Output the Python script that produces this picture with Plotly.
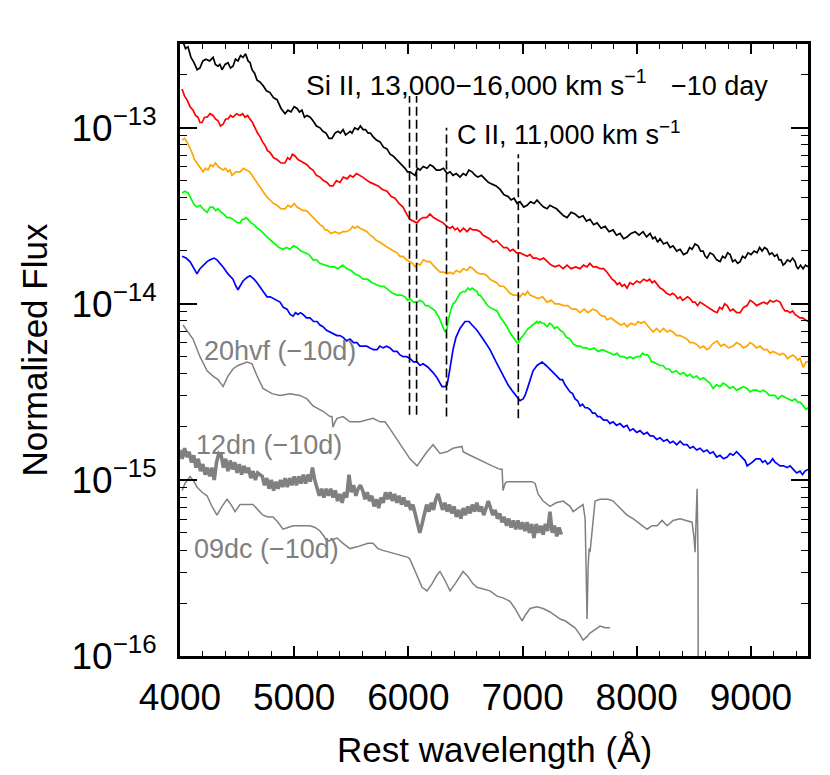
import numpy as np
import plotly.graph_objects as go

# ---- spectra: (rest wavelength [A], log10 normalized flux) ----
spec_black = [(4000,-12.48),(4013,-12.52),(4026,-12.51),(4048,-12.55),(4070,-12.54),(4096,-12.60),(4123,-12.63),(4150,-12.67),
    (4175,-12.66),(4200,-12.62),(4228,-12.61),(4260,-12.62),(4290,-12.60),(4310,-12.64),(4333,-12.65),(4350,-12.64),(4368,-12.67),
    (4395,-12.64),(4420,-12.63),(4442,-12.66),(4464,-12.65),(4486,-12.61),(4508,-12.62),(4530,-12.59),(4552,-12.60),(4574,-12.58),
    (4596,-12.62),(4614,-12.63),(4631,-12.67),(4653,-12.69),(4675,-12.73),(4700,-12.74),(4727,-12.76),(4757,-12.79),(4788,-12.80),
    (4820,-12.83),(4850,-12.84),(4885,-12.89),(4920,-12.92),(4946,-12.90),(4972,-12.91),(5000,-12.88),(5025,-12.89),(5046,-12.91),
    (5068,-12.90),(5090,-12.94),(5112,-12.93),(5140,-12.94),(5165,-12.96),(5195,-12.99),(5226,-13.00),(5252,-13.02),(5279,-13.03),
    (5305,-13.06),(5331,-13.06),(5358,-13.03),(5384,-13.02),(5405,-13.03),(5428,-13.01),(5450,-13.04),(5471,-13.03),(5490,-13.02),
    (5506,-13.03),(5530,-13.00),(5559,-13.01),(5580,-12.99),(5603,-13.01),(5625,-13.01),(5647,-13.03),(5668,-13.03),(5690,-13.05),
    (5720,-13.07),(5752,-13.08),(5782,-13.11),(5813,-13.12),(5840,-13.15),(5866,-13.16),(5896,-13.18),(5927,-13.20),(5950,-13.22),
    (5971,-13.23),(5992,-13.25),(6014,-13.25),(6036,-13.26),(6058,-13.27),(6080,-13.23),(6102,-13.24),(6130,-13.22),(6163,-13.23),
    (6190,-13.21),(6216,-13.22),(6246,-13.24),(6277,-13.24),(6308,-13.23),(6339,-13.26),(6365,-13.25),(6391,-13.27),(6420,-13.26),
    (6452,-13.28),(6480,-13.26),(6505,-13.27),(6530,-13.24),(6558,-13.25),(6585,-13.27),(6610,-13.28),(6640,-13.27),(6672,-13.29),
    (6700,-13.31),(6733,-13.32),(6768,-13.33),(6803,-13.35),(6838,-13.38),(6873,-13.39),(6900,-13.41),(6926,-13.40),(6952,-13.43),
    (6978,-13.42),(7010,-13.45),(7040,-13.44),(7070,-13.42),(7101,-13.43),(7127,-13.41),(7153,-13.43),(7185,-13.45),(7215,-13.46),
    (7240,-13.44),(7267,-13.45),(7298,-13.46),(7329,-13.48),(7360,-13.50),(7390,-13.51),(7425,-13.48),(7460,-13.49),(7495,-13.51),
    (7530,-13.50),(7560,-13.53),(7591,-13.52),(7622,-13.55),(7653,-13.54),(7688,-13.57),(7723,-13.56),(7758,-13.59),(7793,-13.58),
    (7823,-13.61),(7854,-13.60),(7885,-13.63),(7915,-13.62),(7950,-13.60),(7986,-13.59),(8020,-13.61),(8056,-13.59),(8086,-13.62),
    (8117,-13.60),(8140,-13.63),(8161,-13.62),(8183,-13.65),(8204,-13.63),(8235,-13.66),(8266,-13.65),(8292,-13.68),(8318,-13.67),
    (8350,-13.70),(8380,-13.69),(8410,-13.72),(8441,-13.71),(8463,-13.68),(8485,-13.69),(8510,-13.66),(8537,-13.67),(8560,-13.70),
    (8581,-13.70),(8600,-13.73),(8616,-13.74),(8642,-13.71),(8669,-13.72),(8700,-13.75),(8730,-13.76),(8752,-13.73),(8774,-13.74),
    (8796,-13.71),(8818,-13.72),(8840,-13.76),(8862,-13.75),(8884,-13.77),(8905,-13.76),(8927,-13.73),(8949,-13.74),(8975,-13.71),
    (9001,-13.72),(9028,-13.70),(9054,-13.71),(9076,-13.68),(9098,-13.70),(9120,-13.68),(9142,-13.69),(9163,-13.72),(9185,-13.71),
    (9207,-13.73),(9229,-13.72),(9246,-13.75),(9264,-13.75),(9282,-13.78),(9299,-13.77),(9320,-13.75),(9343,-13.76),(9365,-13.74),
    (9387,-13.76),(9400,-13.79),(9413,-13.80),(9435,-13.78),(9457,-13.80),(9478,-13.78),(9500,-13.79)]

spec_red = [(4018,-12.78),(4040,-12.82),(4061,-12.84),(4088,-12.88),(4114,-12.90),(4136,-12.93),(4158,-12.94),(4175,-12.97),
    (4193,-12.97),(4215,-12.94),(4237,-12.94),(4263,-12.92),(4289,-12.93),(4311,-12.95),(4333,-12.96),(4355,-12.99),(4377,-12.98),
    (4400,-12.95),(4420,-12.95),(4442,-12.93),(4464,-12.94),(4495,-12.92),(4526,-12.93),(4548,-12.92),(4570,-12.94),(4592,-12.93),
    (4613,-12.95),(4635,-12.97),(4657,-13.00),(4679,-13.03),(4701,-13.05),(4723,-13.08),(4745,-13.10),(4766,-13.13),(4788,-13.14),
    (4820,-13.17),(4850,-13.18),(4885,-13.20),(4920,-13.20),(4942,-13.17),(4963,-13.18),(4985,-13.15),(5007,-13.16),(5033,-13.18),
    (5060,-13.19),(5086,-13.20),(5112,-13.21),(5140,-13.23),(5165,-13.24),(5195,-13.27),(5226,-13.28),(5256,-13.30),(5287,-13.31),
    (5313,-13.33),(5340,-13.33),(5370,-13.30),(5401,-13.31),(5430,-13.28),(5463,-13.29),(5490,-13.27),(5515,-13.28),(5545,-13.26),
    (5577,-13.27),(5600,-13.28),(5620,-13.29),(5642,-13.30),(5664,-13.31),(5700,-13.32),(5734,-13.33),(5773,-13.35),(5813,-13.36),
    (5850,-13.39),(5883,-13.40),(5918,-13.43),(5953,-13.45),(5985,-13.49),(6014,-13.52),(6045,-13.53),(6076,-13.54),(6102,-13.52),
    (6129,-13.51),(6160,-13.51),(6190,-13.49),(6220,-13.51),(6251,-13.52),(6278,-13.53),(6304,-13.54),(6335,-13.56),(6365,-13.57),
    (6387,-13.56),(6409,-13.58),(6430,-13.57),(6452,-13.59),(6483,-13.57),(6514,-13.59),(6540,-13.57),(6566,-13.58),(6597,-13.58),
    (6628,-13.59),(6655,-13.61),(6680,-13.62),(6710,-13.63),(6742,-13.65),(6772,-13.64),(6803,-13.66),(6834,-13.68),(6864,-13.68),
    (6890,-13.70),(6917,-13.69),(6948,-13.71),(6978,-13.71),(7010,-13.72),(7040,-13.73),(7066,-13.72),(7092,-13.74),(7122,-13.74),
    (7153,-13.75),(7185,-13.74),(7215,-13.76),(7250,-13.78),(7285,-13.79),(7320,-13.78),(7355,-13.80),(7390,-13.78),(7425,-13.80),
    (7465,-13.79),(7504,-13.80),(7535,-13.78),(7565,-13.79),(7590,-13.77),(7617,-13.79),(7648,-13.79),(7679,-13.80),(7710,-13.80),
    (7740,-13.82),(7762,-13.84),(7784,-13.86),(7806,-13.87),(7828,-13.89),(7850,-13.88),(7871,-13.90),(7893,-13.89),(7915,-13.91),
    (7940,-13.88),(7968,-13.89),(8000,-13.87),(8029,-13.88),(8060,-13.86),(8091,-13.87),(8113,-13.86),(8134,-13.88),(8156,-13.87),
    (8178,-13.89),(8205,-13.91),(8231,-13.92),(8262,-13.94),(8292,-13.95),(8314,-13.94),(8336,-13.95),(8358,-13.97),(8380,-13.96),
    (8402,-13.98),(8423,-13.97),(8445,-13.96),(8467,-13.97),(8490,-13.99),(8511,-13.99),(8533,-14.01),(8555,-13.99),(8577,-14.00),
    (8599,-14.01),(8620,-14.02),(8642,-14.03),(8673,-14.04),(8704,-14.05),(8726,-14.02),(8748,-14.03),(8770,-14.00),(8792,-14.01),
    (8818,-14.04),(8844,-14.03),(8875,-14.05),(8905,-14.05),(8935,-14.02),(8967,-14.01),(8993,-13.98),(9019,-13.99),(9050,-14.01),
    (9080,-14.00),(9110,-13.99),(9142,-14.00),(9168,-13.98),(9194,-13.99),(9225,-13.98),(9255,-13.99),(9277,-14.02),(9299,-14.04),
    (9320,-14.04),(9343,-14.05),(9365,-14.04),(9387,-14.06),(9410,-14.07),(9430,-14.08),(9452,-14.08),(9474,-14.09),(9500,-14.10)]

spec_orange = [(4018,-13.07),(4040,-13.06),(4061,-13.08),(4083,-13.11),(4105,-13.14),(4127,-13.18),(4149,-13.20),(4175,-13.23),
    (4202,-13.25),(4224,-13.23),(4245,-13.24),(4267,-13.21),(4289,-13.22),(4311,-13.20),(4333,-13.22),(4355,-13.23),(4377,-13.24),
    (4398,-13.23),(4420,-13.25),(4438,-13.24),(4455,-13.27),(4490,-13.25),(4526,-13.25),(4556,-13.23),(4587,-13.24),(4610,-13.25),
    (4631,-13.27),(4653,-13.29),(4675,-13.31),(4700,-13.34),(4727,-13.36),(4757,-13.39),(4788,-13.41),(4820,-13.43),(4850,-13.44),
    (4885,-13.46),(4920,-13.46),(4946,-13.44),(4972,-13.45),(5000,-13.43),(5025,-13.45),(5051,-13.46),(5077,-13.47),(5108,-13.47),
    (5139,-13.49),(5170,-13.51),(5200,-13.53),(5226,-13.55),(5252,-13.56),(5270,-13.58),(5287,-13.58),(5322,-13.60),(5358,-13.59),
    (5393,-13.60),(5428,-13.59),(5458,-13.59),(5489,-13.58),(5511,-13.56),(5533,-13.57),(5555,-13.56),(5577,-13.57),(5608,-13.58),
    (5638,-13.59),(5664,-13.61),(5690,-13.62),(5720,-13.64),(5752,-13.65),(5795,-13.67),(5839,-13.69),(5870,-13.70),(5901,-13.71),
    (5927,-13.73),(5953,-13.73),(5984,-13.75),(6014,-13.76),(6036,-13.77),(6058,-13.79),(6080,-13.77),(6102,-13.78),(6132,-13.75),
    (6163,-13.76),(6190,-13.76),(6216,-13.78),(6246,-13.80),(6277,-13.82),(6308,-13.82),(6339,-13.83),(6365,-13.82),(6391,-13.83),
    (6420,-13.81),(6452,-13.82),(6483,-13.80),(6514,-13.81),(6540,-13.79),(6566,-13.80),(6597,-13.82),(6628,-13.83),(6660,-13.83),
    (6689,-13.84),(6715,-13.86),(6742,-13.87),(6772,-13.88),(6803,-13.90),(6834,-13.90),(6864,-13.92),(6890,-13.94),(6917,-13.95),
    (6948,-13.95),(6978,-13.96),(7000,-13.94),(7022,-13.95),(7044,-13.93),(7066,-13.95),(7100,-13.96),(7136,-13.97),(7175,-13.96),
    (7215,-13.99),(7250,-13.98),(7285,-14.00),(7320,-14.00),(7355,-14.01),(7395,-14.01),(7434,-14.03),(7470,-14.03),(7504,-14.05),
    (7540,-14.03),(7574,-14.05),(7615,-14.03),(7653,-14.04),(7675,-14.06),(7697,-14.07),(7718,-14.07),(7740,-14.09),(7775,-14.08),
    (7810,-14.10),(7836,-14.11),(7863,-14.12),(7890,-14.11),(7915,-14.13),(7950,-14.11),(7986,-14.12),(8012,-14.10),(8038,-14.11),
    (8065,-14.10),(8091,-14.12),(8117,-14.14),(8143,-14.16),(8175,-14.14),(8204,-14.16),(8235,-14.14),(8266,-14.16),(8292,-14.15),
    (8318,-14.16),(8350,-14.18),(8380,-14.18),(8410,-14.19),(8441,-14.20),(8467,-14.22),(8494,-14.22),(8525,-14.23),(8555,-14.25),
    (8585,-14.24),(8616,-14.26),(8638,-14.25),(8660,-14.23),(8682,-14.22),(8704,-14.21),(8735,-14.24),(8765,-14.23),(8805,-14.25),
    (8844,-14.24),(8875,-14.22),(8905,-14.23),(8935,-14.25),(8967,-14.24),(8993,-14.22),(9019,-14.23),(9050,-14.25),(9080,-14.24),
    (9110,-14.26),(9142,-14.26),(9168,-14.28),(9194,-14.27),(9225,-14.28),(9255,-14.29),(9277,-14.28),(9299,-14.29),(9320,-14.31),
    (9343,-14.30),(9365,-14.29),(9387,-14.30),(9410,-14.32),(9430,-14.31),(9457,-14.36),(9483,-14.33),(9500,-14.33)]

spec_green = [(4018,-13.37),(4044,-13.36),(4070,-13.37),(4088,-13.39),(4105,-13.41),(4127,-13.44),(4149,-13.45),(4175,-13.44),
    (4202,-13.46),(4220,-13.47),(4237,-13.48),(4263,-13.45),(4289,-13.45),(4311,-13.47),(4333,-13.46),(4360,-13.48),(4385,-13.49),
    (4411,-13.51),(4438,-13.51),(4464,-13.52),(4490,-13.53),(4508,-13.54),(4526,-13.54),(4544,-13.52),(4561,-13.52),(4578,-13.51),
    (4596,-13.52),(4622,-13.54),(4648,-13.55),(4675,-13.57),(4701,-13.58),(4730,-13.60),(4762,-13.62),(4797,-13.64),(4832,-13.66),
    (4867,-13.68),(4902,-13.69),(4933,-13.68),(4963,-13.69),(4995,-13.67),(5025,-13.68),(5060,-13.70),(5095,-13.71),(5130,-13.72),
    (5165,-13.75),(5195,-13.75),(5226,-13.77),(5270,-13.78),(5314,-13.79),(5350,-13.79),(5384,-13.80),(5424,-13.78),(5463,-13.80),
    (5498,-13.81),(5533,-13.83),(5568,-13.84),(5603,-13.86),(5642,-13.86),(5682,-13.88),(5717,-13.89),(5752,-13.90),(5787,-13.90),
    (5822,-13.92),(5862,-13.94),(5901,-13.95),(5936,-13.95),(5971,-13.96),(5992,-13.98),(6014,-13.97),(6045,-13.99),(6076,-13.99),
    (6102,-13.98),(6129,-13.99),(6150,-14.01),(6172,-14.01),(6194,-14.02),(6216,-14.03),(6235,-14.04),(6251,-14.06),(6264,-14.07),
    (6277,-14.09),(6290,-14.11),(6304,-14.13),(6312,-14.14),(6321,-14.16),(6330,-14.15),(6339,-14.14),(6347,-14.10),(6356,-14.07),
    (6374,-14.03),(6391,-14.00),(6409,-13.99),(6426,-13.97),(6452,-13.94),(6479,-13.93),(6500,-13.93),(6523,-13.91),(6540,-13.92),
    (6558,-13.91),(6580,-13.92),(6601,-13.93),(6614,-13.95),(6628,-13.95),(6650,-13.97),(6672,-13.99),(6694,-14.01),(6715,-14.02),
    (6746,-14.03),(6777,-14.04),(6800,-14.07),(6821,-14.09),(6843,-14.11),(6864,-14.13),(6886,-14.16),(6908,-14.18),(6930,-14.20),
    (6952,-14.22),(6965,-14.22),(6978,-14.20),(7005,-14.18),(7027,-14.16),(7048,-14.14),(7070,-14.13),(7092,-14.12),(7110,-14.11),
    (7127,-14.10),(7140,-14.11),(7153,-14.10),(7170,-14.11),(7188,-14.11),(7200,-14.12),(7215,-14.13),(7237,-14.11),(7259,-14.12),
    (7280,-14.14),(7302,-14.13),(7330,-14.15),(7355,-14.16),(7385,-14.19),(7416,-14.20),(7447,-14.23),(7478,-14.24),(7505,-14.24),
    (7530,-14.25),(7560,-14.25),(7591,-14.26),(7626,-14.25),(7661,-14.27),(7700,-14.26),(7740,-14.27),(7770,-14.28),(7801,-14.29),
    (7828,-14.28),(7854,-14.30),(7885,-14.30),(7915,-14.31),(7940,-14.30),(7968,-14.31),(8000,-14.30),(8029,-14.30),(8050,-14.28),
    (8073,-14.29),(8095,-14.29),(8117,-14.31),(8130,-14.33),(8143,-14.33),(8175,-14.34),(8204,-14.35),(8230,-14.35),(8257,-14.37),
    (8285,-14.37),(8310,-14.39),(8345,-14.38),(8380,-14.40),(8410,-14.39),(8441,-14.41),(8467,-14.40),(8494,-14.42),(8525,-14.41),
    (8555,-14.43),(8585,-14.42),(8616,-14.44),(8640,-14.45),(8669,-14.48),(8700,-14.46),(8730,-14.47),(8756,-14.45),(8783,-14.46),
    (8815,-14.48),(8844,-14.47),(8875,-14.49),(8905,-14.48),(8935,-14.47),(8967,-14.48),(8993,-14.50),(9019,-14.49),(9050,-14.49),
    (9080,-14.50),(9106,-14.49),(9133,-14.50),(9160,-14.52),(9185,-14.52),(9210,-14.52),(9238,-14.54),(9270,-14.52),(9299,-14.53),
    (9330,-14.54),(9361,-14.55),(9387,-14.54),(9413,-14.56),(9435,-14.56),(9457,-14.58),(9483,-14.60),(9500,-14.59)]

spec_blue = [(4018,-13.73),(4053,-13.74),(4088,-13.76),(4123,-13.80),(4149,-13.83),(4175,-13.80),(4202,-13.78),
    (4237,-13.76),(4263,-13.75),(4298,-13.74),(4324,-13.75),(4350,-13.77),(4377,-13.79),(4420,-13.83),(4464,-13.86),
    (4490,-13.90),(4508,-13.92),(4534,-13.89),(4552,-13.87),(4587,-13.85),(4613,-13.84),(4648,-13.86),(4675,-13.88),
    (4718,-13.92),(4762,-13.96),(4790,-13.96),(4815,-13.97),(4845,-13.98),(4876,-13.99),(4905,-14.02),(4937,-14.03),
    (4965,-14.06),(4990,-14.07),(5012,-14.05),(5033,-14.06),(5055,-14.05),(5077,-14.06),(5108,-14.08),(5139,-14.08),
    (5170,-14.10),(5200,-14.10),(5226,-14.12),(5252,-14.13),(5283,-14.15),(5314,-14.16),(5345,-14.17),(5375,-14.18),
    (5400,-14.18),(5428,-14.19),(5460,-14.21),(5489,-14.20),(5520,-14.22),(5550,-14.22),(5575,-14.24),(5603,-14.24),
    (5635,-14.24),(5664,-14.25),(5695,-14.26),(5726,-14.26),(5750,-14.24),(5778,-14.25),(5810,-14.24),(5839,-14.25),
    (5870,-14.27),(5901,-14.27),(5927,-14.29),(5953,-14.30),(5985,-14.30),(6014,-14.31),(6045,-14.33),(6076,-14.33),
    (6102,-14.35),(6129,-14.34),(6172,-14.36),(6216,-14.39),(6251,-14.42),(6277,-14.45),(6295,-14.47),(6321,-14.47),
    (6339,-14.46),(6356,-14.40),(6374,-14.33),(6391,-14.26),(6417,-14.19),(6452,-14.14),(6496,-14.10),(6531,-14.10),
    (6558,-14.12),(6601,-14.15),(6654,-14.20),(6715,-14.26),(6768,-14.33),(6829,-14.41),(6873,-14.46),(6917,-14.50),
    (6952,-14.53),(6978,-14.55),(7005,-14.54),(7022,-14.52),(7048,-14.47),(7066,-14.43),(7092,-14.38),(7127,-14.35),
    (7171,-14.33),(7206,-14.35),(7241,-14.37),(7285,-14.40),(7329,-14.43),(7350,-14.43),(7372,-14.46),(7395,-14.48),
    (7416,-14.50),(7438,-14.51),(7460,-14.54),(7482,-14.55),(7504,-14.58),(7525,-14.57),(7548,-14.59),(7570,-14.59),
    (7591,-14.60),(7613,-14.62),(7635,-14.62),(7657,-14.64),(7679,-14.64),(7710,-14.66),(7740,-14.66),(7766,-14.68),
    (7793,-14.67),(7823,-14.69),(7854,-14.68),(7885,-14.70),(7915,-14.69),(7940,-14.72),(7968,-14.71),(8000,-14.73),
    (8029,-14.72),(8060,-14.74),(8091,-14.73),(8117,-14.75),(8143,-14.75),(8175,-14.77),(8204,-14.76),(8235,-14.78),
    (8266,-14.77),(8292,-14.79),(8318,-14.78),(8350,-14.80),(8380,-14.78),(8410,-14.80),(8441,-14.80),(8467,-14.82),
    (8494,-14.81),(8525,-14.83),(8555,-14.82),(8585,-14.84),(8616,-14.83),(8642,-14.85),(8669,-14.84),(8700,-14.87),
    (8730,-14.86),(8760,-14.88),(8792,-14.87),(8818,-14.85),(8844,-14.86),(8875,-14.84),(8905,-14.86),(8930,-14.88),
    (8949,-14.89),(8967,-14.92),(8990,-14.91),(9010,-14.90),(9045,-14.88),(9080,-14.88),(9102,-14.90),(9124,-14.89),
    (9146,-14.91),(9168,-14.90),(9190,-14.88),(9212,-14.90),(9235,-14.91),(9255,-14.92),(9285,-14.92),(9317,-14.93),
    (9343,-14.92),(9369,-14.94),(9400,-14.96),(9430,-14.95),(9452,-14.97),(9474,-14.95),(9500,-14.94)]

spec_20hvf = [(4026,-14.12),(4070,-14.16),(4114,-14.20),(4175,-14.30),(4237,-14.38),(4289,-14.41),(4333,-14.43),
    (4377,-14.47),(4420,-14.41),(4464,-14.37),(4508,-14.35),(4587,-14.33),(4631,-14.34),(4675,-14.41),(4727,-14.48),
    (4806,-14.51),(4876,-14.52),(4963,-14.51),(5051,-14.52),(5112,-14.54),(5165,-14.58),(5252,-14.61),(5314,-14.64),
    (5331,-14.64),(5340,-14.70),(5358,-14.67),(5375,-14.65),(5428,-14.64),(5489,-14.67),(5577,-14.67),(5690,-14.65),
    (5752,-14.67),(5796,-14.67),(5839,-14.71),(5901,-14.77),(5953,-14.82),(6014,-14.88),(6076,-14.92),(6120,-14.88),
    (6163,-14.84),(6216,-14.80),(6251,-14.83),(6277,-14.85),(6339,-14.84),(6391,-14.82),(6470,-14.81),(6479,-14.84),
    (6540,-14.86),(6601,-14.88),(6672,-14.90),(6733,-14.92),(6803,-14.94),(6821,-14.94),(6829,-15.06),(6847,-15.02),
    (6864,-15.01),(6908,-15.01),(6952,-15.01),(7022,-15.01),(7083,-15.01),(7110,-15.02),(7136,-15.08),(7180,-15.12),
    (7241,-15.15),(7294,-15.13),(7355,-15.12),(7416,-15.15),(7443,-15.18),(7486,-15.16),(7530,-15.14),(7548,-15.22),
    (7556,-15.45),(7565,-15.79),(7574,-15.50),(7583,-15.39),(7591,-15.41),(7609,-15.28),(7635,-15.12),(7679,-15.11),
    (7705,-15.11),(7749,-15.11),(7793,-15.12),(7854,-15.16),(7915,-15.20),(7968,-15.22),(8029,-15.25),(8091,-15.28),
    (8134,-15.26),(8178,-15.26),(8222,-15.23),(8266,-15.26),(8318,-15.23),(8380,-15.22),(8432,-15.23),(8485,-15.24),
    (8502,-15.33),(8511,-15.41),(8520,-15.22),(8529,-15.05),(8537,-15.45),(8540,-17.00)]

spec_12dn = [(4000,-14.83),(4020,-14.88),(4040,-14.82),(4060,-14.87),(4080,-14.84),(4100,-14.90),(4120,-14.86),
    (4140,-14.93),(4160,-14.88),(4180,-14.95),(4200,-14.91),(4220,-14.97),(4240,-14.93),(4260,-14.98),(4280,-14.93),
    (4300,-15.00),(4320,-14.90),(4340,-14.85),(4360,-14.86),(4380,-14.93),(4400,-14.88),(4420,-14.95),(4440,-14.89),
    (4460,-14.94),(4480,-14.90),(4500,-14.96),(4520,-14.91),(4540,-14.97),(4560,-14.92),(4580,-14.96),(4600,-14.93),
    (4620,-14.99),(4640,-14.95),(4660,-15.00),(4680,-14.96),(4700,-14.97),(4720,-14.98),(4740,-15.03),(4760,-14.99),
    (4780,-15.05),(4800,-15.00),(4820,-15.06),(4840,-15.01),(4860,-15.05),(4880,-15.00),(4900,-15.04),(4920,-14.99),
    (4940,-15.04),(4960,-14.99),(4980,-15.03),(5000,-14.98),(5020,-15.03),(5040,-14.98),(5060,-15.02),(5080,-14.97),
    (5100,-15.02),(5120,-14.97),(5140,-15.01),(5160,-14.93),(5180,-15.00),(5200,-15.05),(5220,-15.09),(5240,-15.05),
    (5260,-15.10),(5280,-15.05),(5300,-15.09),(5320,-15.05),(5340,-15.10),(5360,-15.06),(5380,-15.12),(5400,-15.08),
    (5420,-15.13),(5440,-15.07),(5460,-15.10),(5480,-14.97),(5500,-15.07),(5520,-15.03),(5540,-15.09),(5560,-15.05),
    (5580,-15.03),(5600,-15.06),(5620,-15.11),(5640,-15.07),(5660,-15.12),(5680,-15.09),(5700,-15.15),(5720,-15.11),
    (5740,-15.16),(5760,-15.10),(5780,-15.13),(5800,-15.07),(5820,-15.11),(5840,-15.07),(5860,-15.12),(5880,-15.08),
    (5900,-15.13),(5920,-15.09),(5940,-15.14),(5960,-15.10),(5980,-15.15),(6000,-15.12),(6020,-15.17),(6040,-15.14),
    (6060,-15.20),(6080,-15.24),(6100,-15.30),(6120,-15.25),(6140,-15.19),(6160,-15.14),(6180,-15.18),(6200,-15.13),
    (6220,-15.17),(6240,-15.11),(6260,-15.08),(6280,-15.12),(6300,-15.17),(6320,-15.13),(6340,-15.18),(6360,-15.14),
    (6380,-15.19),(6400,-15.15),(6420,-15.21),(6440,-15.17),(6460,-15.22),(6480,-15.16),(6500,-15.20),(6520,-15.15),
    (6540,-15.19),(6560,-15.14),(6580,-15.18),(6600,-15.13),(6620,-15.18),(6640,-15.15),(6660,-15.20),(6680,-15.16),
    (6700,-15.12),(6720,-15.16),(6740,-15.20),(6760,-15.17),(6780,-15.22),(6800,-15.19),(6820,-15.24),(6840,-15.21),
    (6860,-15.26),(6880,-15.22),(6900,-15.27),(6920,-15.23),(6940,-15.28),(6960,-15.23),(6980,-15.28),(7000,-15.24),
    (7020,-15.29),(7040,-15.24),(7060,-15.30),(7080,-15.25),(7100,-15.33),(7120,-15.25),(7140,-15.30),(7160,-15.26),
    (7180,-15.31),(7200,-15.25),(7220,-15.29),(7240,-15.18),(7260,-15.30),(7280,-15.26),(7300,-15.32),(7320,-15.27),
    (7340,-15.31)]

spec_09dc = [(4018,-15.06),(4044,-15.02),(4088,-14.98),(4123,-15.01),(4149,-15.04),(4193,-15.07),(4237,-15.09),
    (4280,-15.15),(4324,-15.20),(4368,-15.15),(4412,-15.11),(4447,-15.14),(4482,-15.18),(4526,-15.14),(4578,-15.14),
    (4639,-15.14),(4683,-15.17),(4727,-15.20),(4771,-15.21),(4815,-15.21),(4858,-15.24),(4902,-15.28),(4946,-15.27),
    (4990,-15.26),(5051,-15.26),(5139,-15.26),(5183,-15.27),(5226,-15.29),(5261,-15.32),(5287,-15.35),(5331,-15.34),
    (5375,-15.33),(5428,-15.36),(5489,-15.39),(5550,-15.38),(5603,-15.37),(5647,-15.36),(5690,-15.36),(5734,-15.39),
    (5778,-15.40),(5839,-15.41),(5901,-15.42),(5953,-15.43),(5997,-15.44),(6014,-15.45),(6041,-15.49),(6076,-15.54),
    (6120,-15.61),(6163,-15.63),(6207,-15.59),(6251,-15.54),(6277,-15.52),(6312,-15.56),(6365,-15.63),(6409,-15.59),
    (6452,-15.55),(6479,-15.52),(6523,-15.55),(6566,-15.59),(6601,-15.61),(6654,-15.62),(6715,-15.63),(6777,-15.66),
    (6829,-15.67),(6890,-15.69),(6934,-15.73),(6978,-15.78),(6996,-15.80),(7022,-15.77),(7066,-15.73),(7127,-15.72),
    (7180,-15.73),(7241,-15.75),(7285,-15.77),(7329,-15.79),(7372,-15.80),(7416,-15.82),(7460,-15.84),(7504,-15.88),
    (7530,-15.91),(7565,-15.89),(7591,-15.87),(7635,-15.85),(7679,-15.83),(7723,-15.84),(7766,-15.84)]

# line markers (wavelength, log10 flux at bottom, log10 flux at top)
si_lines = [(6010, -14.63, -12.82), (6072, -14.63, -12.82)]
c_lines = [(6334, -14.64, -13.00), (6963, -14.65, -13.15)]

x_ticks = [4000, 5000, 6000, 7000, 8000, 9000]
y_ticks = [1e-16, 1e-15, 1e-14, 1e-13]
y_ticktext = ["10<sup>\u221216</sup>", "10<sup>\u221215</sup>", "10<sup>\u221214</sup>", "10<sup>\u221213</sup>"]

FONT = "Liberation Sans, Arial, Helvetica, sans-serif"

def split(spec):
    w = [p[0] for p in spec]
    f = [10 ** p[1] for p in spec]
    return w, f

fig = go.Figure()

series = [
    (spec_black, "black", 1.7),
    (spec_red, "#ff0000", 1.7),
    (spec_orange, "#ffa500", 1.7),
    (spec_green, "#00ff00", 1.7),
    (spec_blue, "#0000ff", 1.7),
    (spec_20hvf, "#808080", 1.5),
    (spec_12dn, "#808080", 3.6),
    (spec_09dc, "#808080", 1.5),
]
for spec, col, lw in series:
    w, f = split(spec)
    fig.add_trace(go.Scatter(x=w, y=f, mode="lines", line=dict(color=col, width=lw),
                             showlegend=False, hoverinfo="skip"))

for wl, lo, hi in si_lines + c_lines:
    fig.add_trace(go.Scatter(x=[wl, wl], y=[10 ** lo, 10 ** hi], mode="lines",
                             line=dict(color="black", width=1.6, dash="9px,4px"),
                             showlegend=False, hoverinfo="skip"))

annots = [
    dict(x=5090, y=-12.745, text="Si II, 13,000\u221216,000 km s<sup>\u22121</sup>", color="black", size=28),
    dict(x=8280, y=-12.76, text="\u221210 day", color="black", size=27),
    dict(x=6405, y=-13.03, text="C II, 11,000 km s<sup>\u22121</sup>", color="black", size=27),
    dict(x=4190, y=-14.27, text="20hvf (\u221210d)", color="#808080", size=27),
    dict(x=4120, y=-14.80, text="12dn (\u221210d)", color="#808080", size=27),
    dict(x=4105, y=-15.39, text="09dc (\u221210d)", color="#808080", size=27),
]
for a in annots:
    fig.add_annotation(x=a["x"], y=a["y"], xref="x", yref="y", text=a["text"], showarrow=False,
                       xanchor="left", yanchor="middle",
                       font=dict(family=FONT, size=a["size"], color=a["color"]))

# x-axis title placed as paper-anchored text
fig.add_annotation(x=0.5, y=-0.152, xref="paper", yref="paper", text="Rest wavelength (\u00c5)",
                   showarrow=False, xanchor="center", yanchor="middle",
                   font=dict(family=FONT, size=35, color="black"))

axis_common = dict(showline=True, linecolor="black", linewidth=3, mirror="allticks",
                   ticks="inside", tickcolor="black", tickwidth=1.5, showgrid=False, zeroline=False,
                   tickfont=dict(family=FONT, size=37, color="black"))

fig.update_xaxes(range=[4000, 9500], tickvals=x_ticks, ticklen=10,
                 minor=dict(ticks="inside", ticklen=5, dtick=200, tickcolor="black", tickwidth=1.2),
                 ticklabelstandoff=7,
                 **axis_common)
fig.update_yaxes(type="log", range=[-16, -12.524], tickvals=y_ticks, ticktext=y_ticktext, ticklen=17,
                 minor=dict(ticks="inside", ticklen=7, dtick="D1", tickcolor="black", tickwidth=1.2),
                 title=dict(text="Normalized Flux", font=dict(family=FONT, size=35, color="black"), standoff=14),
                 ticklabelstandoff=13,
                 **axis_common)

# the page adds an 8px body margin, so the margins are offset to keep the frame where the reference has it
fig.update_layout(width=830, height=775, margin=dict(l=172, r=30, t=36, b=127),
                  plot_bgcolor="white", paper_bgcolor="white", showlegend=False,
                  font=dict(family=FONT, color="black"))

fig.write_html("out.html")
